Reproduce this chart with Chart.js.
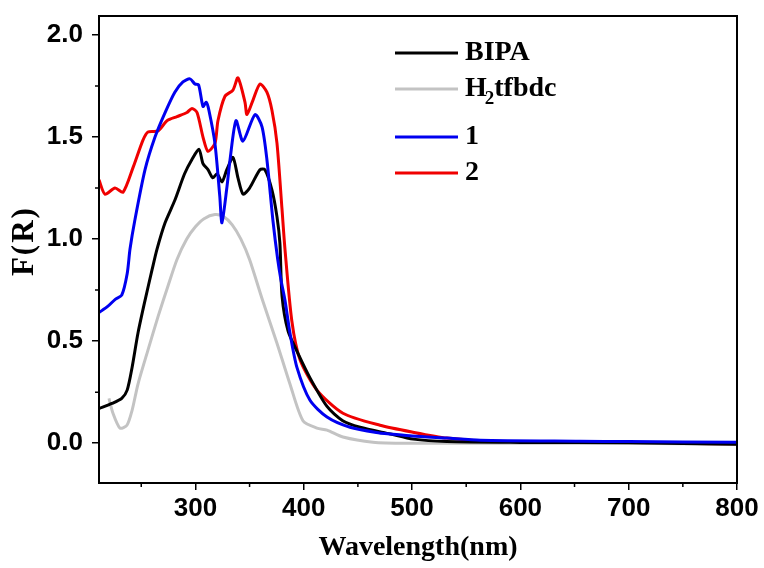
<!DOCTYPE html>
<html>
<head>
<meta charset="utf-8">
<script src="https://cdn.jsdelivr.net/npm/chart.js@4.4.1/dist/chart.umd.min.js"></script>
<style>
  html, body { margin: 0; background: #fff; }
</style>
</head>
<body>
<canvas id="c" width="764" height="568"></canvas>
<script>
// ─── Data ───
const bipaX = [211, 223, 232, 237, 241.5, 247, 253.5, 260, 264.5, 272, 281, 290, 296.8, 303.3, 307, 311.6, 316, 320, 324.5, 329, 334.7, 339.3, 344, 350, 359.6, 364.2, 370.7, 375.3, 378, 380, 385.5, 393.8, 405.8, 421.5, 436, 452, 480, 501, 532, 600, 700, 800];
const bipaY = [0.17, 0.195, 0.22, 0.26, 0.37, 0.54, 0.70, 0.85, 0.95, 1.08, 1.19, 1.32, 1.39, 1.44, 1.37, 1.34, 1.30, 1.32, 1.28, 1.34, 1.40, 1.30, 1.22, 1.25, 1.34, 1.34, 1.24, 1.11, 0.98, 0.72, 0.55, 0.45, 0.32, 0.18, 0.11, 0.078, 0.045, 0.02, 0.008, 0.004, 0.002, -0.005];

const tfbX = [220.2, 223.9, 230.4, 236.8, 241.5, 247, 256.2, 265.5, 274.7, 283, 292, 300, 308, 318, 326, 334, 342, 350, 362, 375.3, 387.3, 399.3, 412.2, 421.5, 436.2, 463.9, 495.3, 600, 700, 800];
const tfbY = [0.22, 0.147, 0.074, 0.088, 0.16, 0.29, 0.456, 0.62, 0.77, 0.90, 1.00, 1.06, 1.10, 1.12, 1.11, 1.07, 1.00, 0.90, 0.70, 0.49, 0.29, 0.11, 0.074, 0.064, 0.03, 0.005, 0.0, 0.0, 0.0, -0.005];

const c1X = [211, 219, 226, 232, 237, 239.6, 244, 253.5, 262.7, 272, 281, 288.5, 295, 299.6, 303, 307, 310, 312.5, 318, 322.5, 324.5, 329, 332, 337.5, 343.9, 355, 361.5, 366, 371.6, 376, 379, 382.7, 387.3, 393.8, 405.8, 421.5, 442.7, 470, 480, 500, 532, 563, 655, 700, 800];
const c1Y = [0.64, 0.67, 0.705, 0.725, 0.83, 0.95, 1.09, 1.34, 1.50, 1.62, 1.72, 1.77, 1.785, 1.76, 1.755, 1.65, 1.67, 1.63, 1.47, 1.21, 1.08, 1.25, 1.39, 1.58, 1.48, 1.61, 1.55, 1.39, 1.09, 0.90, 0.80, 0.70, 0.54, 0.37, 0.21, 0.128, 0.078, 0.05, 0.045, 0.035, 0.025, 0.015, 0.01, 0.008, 0.005];

const c2X = [211, 216.5, 225.8, 233.2, 242.4, 251.6, 256.2, 265.5, 273.8, 283, 292.2, 296.8, 301.5, 307, 311.6, 318.1, 320.8, 327.3, 334.7, 339.3, 345.8, 347.6, 353.1, 359.6, 366, 370.7, 375.3, 379.9, 382.7, 389, 396.5, 412.2, 436.2, 470.4, 500.8, 532.2, 572, 700, 800];
const c2Y = [1.29, 1.22, 1.25, 1.23, 1.35, 1.485, 1.525, 1.53, 1.58, 1.60, 1.62, 1.64, 1.62, 1.50, 1.43, 1.47, 1.58, 1.70, 1.73, 1.79, 1.67, 1.61, 1.68, 1.76, 1.72, 1.63, 1.47, 1.15, 0.95, 0.60, 0.41, 0.26, 0.147, 0.088, 0.054, 0.025, 0.01, 0.004, -0.005];

const seriesNames = ['BIPA', 'H2tfbdc', '1', '2'];
const seriesColors = ['#000000', '#c3c3c3', '#0000f0', '#f00000'];
const xTicks = [300, 400, 500, 600, 700, 800];
const xMinor = [250, 350, 450, 550, 650, 750];
const yTicks = [0, 0.5, 1.0, 1.5, 2.0];
const yMinor = [0.25, 0.75, 1.25, 1.75];

const pts = (xs, ys) => xs.map((x, i) => ({ x, y: ys[i] }));

// ─── Frame, minor ticks, y title ───
const framePlugin = {
  id: 'frame',
  afterDraw(chart) {
    const { ctx, chartArea: a, scales: { x, y } } = chart;
    ctx.save();
    ctx.strokeStyle = '#000';
    ctx.lineWidth = 2;
    ctx.strokeRect(a.left, a.top, a.right - a.left, a.bottom - a.top);
    ctx.lineWidth = 1.5;
    ctx.beginPath();
    xMinor.forEach(v => { const p = x.getPixelForValue(v); ctx.moveTo(p, a.bottom); ctx.lineTo(p, a.bottom + 4); });
    yMinor.forEach(v => { const p = y.getPixelForValue(v); ctx.moveTo(a.left, p); ctx.lineTo(a.left - 4, p); });
    ctx.stroke();
    // rotated y title
    ctx.translate(25, y.getPixelForValue(0.99));
    ctx.rotate(-Math.PI / 2);
    ctx.font = 'bold 31px "Liberation Serif"';
    ctx.letterSpacing = '2px';
    ctx.textAlign = 'center';
    ctx.textBaseline = 'middle';
    ctx.fillStyle = '#000';
    ctx.fillText('F(R)', 0, 0);
    ctx.restore();
  }
};

// ─── Legend with subscript ───
const legendPlugin = {
  id: 'subLegend',
  afterDraw(chart) {
    const { ctx, chartArea: a } = chart;
    const x0 = a.left + 296, x1 = a.left + 359, tx = a.left + 366;
    const rows = [a.top + 37, a.top + 73, a.top + 121, a.top + 157];
    ctx.save();
    ctx.lineWidth = 3;
    ctx.textBaseline = 'middle';
    ctx.fillStyle = '#000';
    rows.forEach((yy, i) => {
      ctx.strokeStyle = seriesColors[i];
      ctx.beginPath(); ctx.moveTo(x0, yy); ctx.lineTo(x1, yy); ctx.stroke();
      ctx.font = 'bold 28px "Liberation Serif"';
      if (seriesNames[i] === 'H2tfbdc') {
        ctx.fillText('H', tx, yy);
        let w = ctx.measureText('H').width;
        ctx.font = 'bold 19px "Liberation Serif"';
        ctx.fillText('2', tx + w - 2, yy + 10);
        w += ctx.measureText('2').width - 2;
        ctx.font = 'bold 28px "Liberation Serif"';
        ctx.fillText('tfbdc', tx + w, yy);
      } else {
        ctx.fillText(seriesNames[i], tx, yy);
      }
    });
    ctx.restore();
  }
};

const sets = [pts(bipaX, bipaY), pts(tfbX, tfbY), pts(c1X, c1Y), pts(c2X, c2Y)];

new Chart(document.getElementById('c'), {
  type: 'line',
  data: {
    datasets: sets.map((d, i) => ({
      label: seriesNames[i], data: d, borderColor: seriesColors[i], borderWidth: 3,
      pointRadius: 0, tension: 0.25, fill: false, order: i === 2 ? 0 : i + 1
    }))
  },
  options: {
    responsive: false,
    animation: false,
    layout: { padding: { top: 16, right: 27, left: 0, bottom: 0 } },
    plugins: { legend: { display: false }, tooltip: { enabled: false } },
    scales: {
      x: {
        type: 'linear', min: 211, max: 800,
        afterBuildTicks: s => { s.ticks = xTicks.map(v => ({ value: v })); },
        afterFit: s => { s.height = 85; s.paddingLeft = 0; s.paddingRight = 0; },
        grid: { drawOnChartArea: false, tickLength: 7, color: '#000', lineWidth: 1.5 },
        border: { display: true, color: '#000', width: 2 },
        ticks: { color: '#000', padding: 3, font: { family: '"Liberation Sans"', size: 26, weight: 'bold' } },
        title: { display: true, text: 'Wavelength(nm)', color: '#000', padding: { top: 0, bottom: 3 },
          font: { family: '"Liberation Serif"', size: 28, weight: 'bold' } }
      },
      y: {
        type: 'linear', min: -0.195, max: 2.093,
        afterBuildTicks: s => { s.ticks = yTicks.map(v => ({ value: v })); },
        afterFit: s => { s.width = 99; s.paddingTop = 0; s.paddingBottom = 0; },
        grid: { drawOnChartArea: false, tickLength: 7, color: '#000', lineWidth: 1.5 },
        border: { display: true, color: '#000', width: 2 },
        ticks: { color: '#000', padding: 9, callback: v => v.toFixed(1),
          font: { family: '"Liberation Sans"', size: 26, weight: 'bold' } }
      }
    }
  },
  plugins: [framePlugin, legendPlugin]
});
</script>
</body>
</html>
